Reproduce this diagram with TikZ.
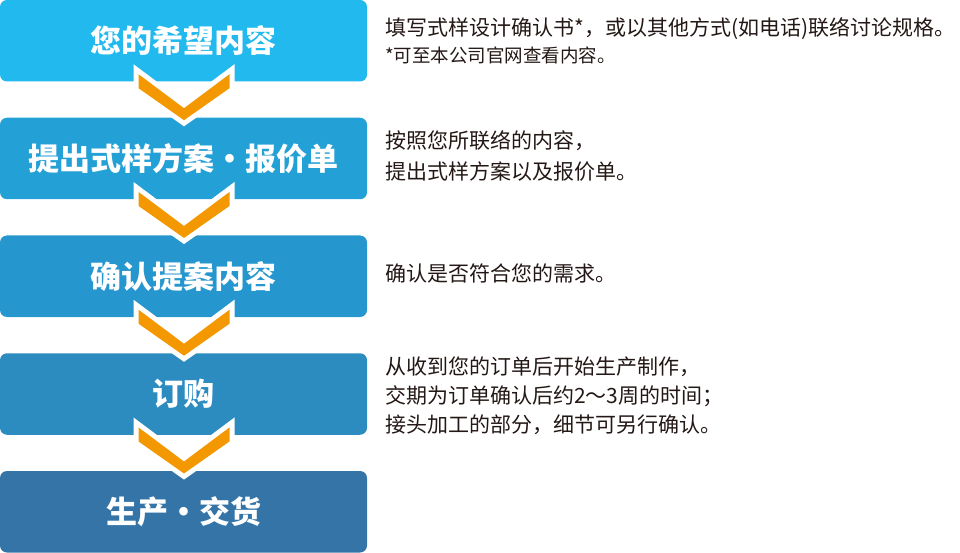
\documentclass[tikz,border=0pt]{standalone}
\usepackage{fontspec}
\setmainfont{Noto Sans CJK SC}
\newfontfamily\cjk{Noto Sans CJK SC}
\usetikzlibrary{calc}
\definecolor{cA}{RGB}{33,185,238}
\definecolor{cB}{RGB}{35,160,214}
\definecolor{cC}{RGB}{38,151,206}
\definecolor{cD}{RGB}{44,140,192}
\definecolor{cE}{RGB}{52,116,166}
\definecolor{chevorange}{RGB}{243,152,0}
\definecolor{textdark}{RGB}{35,24,21}
\tikzset{
  stepbox/.style={rectangle, rounded corners=7pt, minimum width=367pt,
    minimum height=81.5pt, inner sep=0pt, text=white,
    font=\cjk\bfseries\fontsize{31}{36}\selectfont},
  note/.style={anchor=west, inner sep=0pt, text=textdark,
    font=\fontsize{21}{24}\selectfont, text height=18.5pt, text depth=2.5pt},
  smallnote/.style={note, font=\fontsize{18.5}{20}\selectfont,
    text height=16.3pt, text depth=2.2pt},
  chevwhite/.style={draw=white, line width=10pt, line join=miter},
  chevfill/.style={fill=chevorange},
}
\newcommand\mychevpath[1]{($(#1.south)+(-45,-7.5)$) -- ($(#1.south)+(0.5,26.5)$) -- ($(#1.south)+(46,-7.5)$) -- ($(#1.south)+(46,6.5)$) -- ($(#1.south)+(0.5,38.5)$) -- ($(#1.south)+(-45,6.5)$) -- cycle}
\begin{document}
\begin{tikzpicture}[x=1pt,y=-1pt]
\useasboundingbox (0,0) rectangle (960,553);
\node[stepbox, fill=cA] (b1) at (183.5,40.75) {您的希望内容};
\node[stepbox, fill=cB] (b2) at (183.5,158.5) {提出式样方案・报价单};
\node[stepbox, fill=cC] (b3) at (183.5,276.25) {确认提案内容};
\node[stepbox, fill=cD] (b4) at (183.5,394) {订购};
\node[stepbox, fill=cE] (b5) at (183.5,511.75) {生产・交货};
\foreach \a in {b1,b2,b3,b4} {
  \draw[chevwhite] \mychevpath{\a};
  \fill[chevfill] \mychevpath{\a};
}
\node[note] (t1) at (385,28) {填写式样设计确认书*，或以其他方式(如电话)联络讨论规格。};
\node[smallnote] (t1b) at (385,55.5) {*可至本公司官网查看内容。};
\node[note] (t2) at (385,141) {按照您所联络的内容，};
\node[note] (t2b) at (385,172) {提出式样方案以及报价单。};
\node[note] (t3) at (385,273) {确认是否符合您的需求。};
\node[note] (t4) at (385,366) {从收到您的订单后开始生产制作，};
\node[note] (t4b) at (385,395) {交期为订单确认后约2～3周的时间；};
\node[note] (t4c) at (385,424) {接头加工的部分，细节可另行确认。};
\end{tikzpicture}
\end{document}
